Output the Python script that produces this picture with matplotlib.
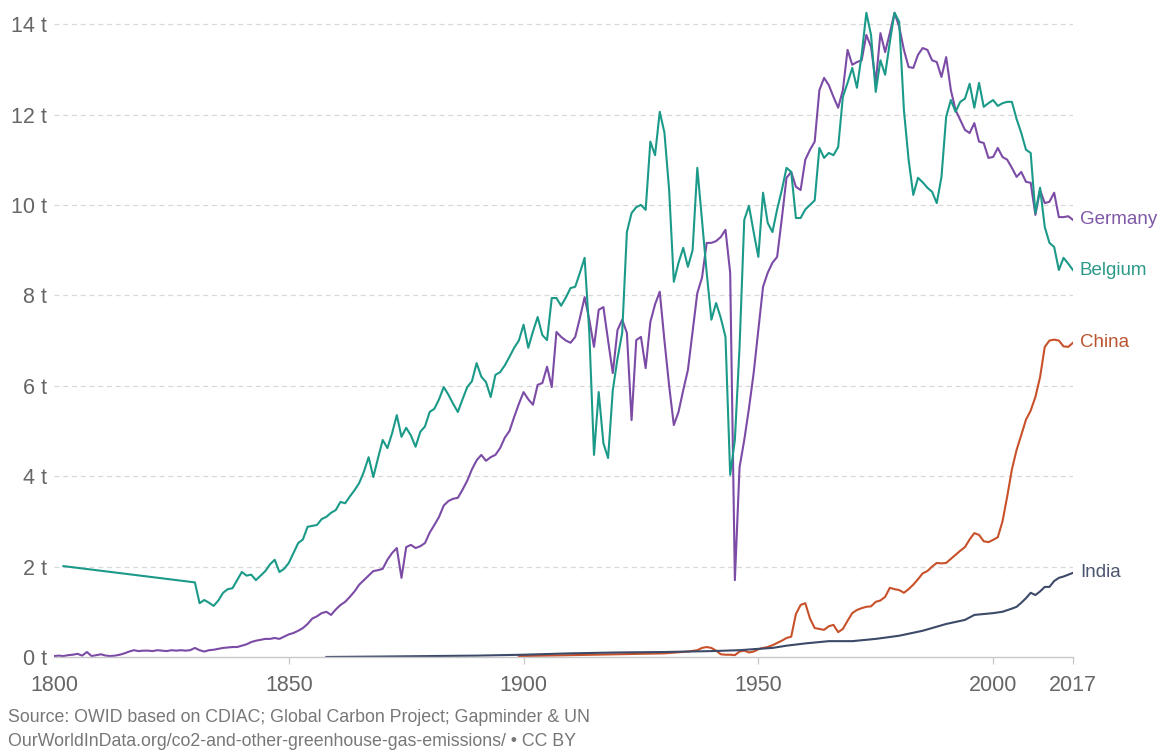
import numpy as np
import matplotlib
matplotlib.use("Agg")
import matplotlib.pyplot as plt

# Per-capita CO2 emissions (tonnes per person)
germany_years = list(range(1800, 2018))
germany_values = [
    0.02, 0.03, 0.02, 0.04, 0.05, 0.07, 0.03, 0.11, 0.02, 0.04,  # 1800s
    0.06, 0.03, 0.02, 0.03, 0.05, 0.08, 0.12, 0.15, 0.13, 0.14,  # 1810s
    0.14, 0.13, 0.15, 0.14, 0.13, 0.15, 0.14, 0.15, 0.14, 0.15,  # 1820s
    0.20, 0.15, 0.12, 0.15, 0.16, 0.18, 0.20, 0.21, 0.22, 0.22,  # 1830s
    0.25, 0.28, 0.33, 0.36, 0.38, 0.40, 0.40, 0.42, 0.40, 0.45,  # 1840s
    0.50, 0.53, 0.58, 0.64, 0.73, 0.85, 0.90, 0.97, 1.00, 0.93,  # 1850s
    1.05, 1.15, 1.22, 1.33, 1.45, 1.60, 1.70, 1.80, 1.90, 1.92,  # 1860s
    1.95, 2.15, 2.30, 2.41, 1.75, 2.43, 2.48, 2.41, 2.45, 2.52,  # 1870s
    2.75, 2.92, 3.10, 3.35, 3.45, 3.50, 3.52, 3.70, 3.90, 4.15,  # 1880s
    4.35, 4.47, 4.34, 4.42, 4.47, 4.62, 4.85, 5.00, 5.31, 5.60,  # 1890s
    5.86, 5.70, 5.58, 6.02, 6.06, 6.42, 5.97, 7.19, 7.08, 7.00,  # 1900s
    6.95, 7.08, 7.50, 7.96, 7.46, 6.86, 7.68, 7.74, 7.00, 6.28,  # 1910s
    7.23, 7.46, 7.17, 5.24, 7.01, 7.08, 6.39, 7.41, 7.80, 8.08,  # 1920s
    7.00, 6.00, 5.13, 5.42, 5.90, 6.35, 7.20, 8.05, 8.39, 9.16,  # 1930s
    9.16, 9.20, 9.29, 9.45, 8.50, 1.70, 4.20, 4.80, 5.50, 6.28,  # 1940s
    7.23, 8.19, 8.50, 8.72, 8.85, 9.70, 10.60, 10.73, 10.40, 10.33,  # 1950s
    11.00, 11.22, 11.40, 12.54, 12.81, 12.65, 12.39, 12.15, 12.54, 13.43,  # 1960s
    13.10, 13.16, 13.20, 13.76, 13.50, 12.70, 13.80, 13.38, 13.80, 14.25,  # 1970s
    13.94, 13.43, 13.05, 13.03, 13.32, 13.47, 13.43, 13.20, 13.16, 12.83,  # 1980s
    13.27, 12.54, 12.10, 11.88, 11.66, 11.59, 11.81, 11.40, 11.37, 11.04,  # 1990s
    11.06, 11.26, 11.06, 11.00, 10.82, 10.62, 10.73, 10.51, 10.49, 9.78,  # 2000s
    10.33, 10.04, 10.07, 10.27, 9.73, 9.73, 9.75, 9.67,  # 2010s
]

belgium_years = [1802] + list(range(1830, 2018))
belgium_values = [
    2.01,
    1.65, 1.19, 1.26, 1.20, 1.13, 1.25, 1.42, 1.50, 1.52, 1.70,  # 1830s
    1.88, 1.80, 1.82, 1.70, 1.80, 1.90, 2.05, 2.15, 1.88, 1.95,  # 1840s
    2.08, 2.30, 2.52, 2.60, 2.88, 2.90, 2.92, 3.05, 3.10, 3.19,  # 1850s
    3.25, 3.43, 3.40, 3.55, 3.69, 3.85, 4.10, 4.42, 3.98, 4.40,  # 1860s
    4.80, 4.62, 4.95, 5.35, 4.87, 5.07, 4.90, 4.65, 4.98, 5.10,  # 1870s
    5.42, 5.49, 5.70, 5.97, 5.80, 5.60, 5.42, 5.70, 5.97, 6.10,  # 1880s
    6.50, 6.20, 6.08, 5.75, 6.24, 6.30, 6.45, 6.64, 6.84, 7.00,  # 1890s
    7.35, 6.84, 7.20, 7.52, 7.12, 7.01, 7.94, 7.94, 7.77, 7.95,  # 1900s
    8.16, 8.19, 8.50, 8.83, 7.17, 4.47, 5.86, 4.73, 4.40, 5.90,  # 1910s
    6.60, 7.17, 9.40, 9.82, 9.95, 10.00, 9.89, 11.40, 11.10, 12.06,  # 1920s
    11.60, 10.33, 8.30, 8.72, 9.05, 8.63, 9.00, 10.82, 9.67, 8.50,  # 1930s
    7.46, 7.83, 7.50, 7.08, 4.03, 4.80, 6.86, 9.67, 9.98, 9.40,  # 1940s
    8.85, 10.27, 9.60, 9.40, 9.90, 10.33, 10.82, 10.73, 9.71, 9.71,  # 1950s
    9.90, 10.00, 10.10, 11.26, 11.04, 11.15, 11.10, 11.28, 12.39, 12.70,  # 1960s
    13.03, 12.59, 13.32, 14.25, 13.76, 12.50, 13.20, 12.88, 13.60, 14.25,  # 1970s
    14.05, 12.10, 11.00, 10.22, 10.60, 10.50, 10.38, 10.29, 10.04, 10.62,  # 1980s
    11.95, 12.32, 12.06, 12.28, 12.35, 12.68, 12.15, 12.70, 12.17, 12.25,  # 1990s
    12.32, 12.19, 12.25, 12.28, 12.28, 11.90, 11.59, 11.22, 11.15, 9.82,  # 2000s
    10.38, 9.51, 9.16, 9.07, 8.56, 8.83, 8.70, 8.56,  # 2010s
]

china_years = [1899, 1905, 1910, 1915, 1920, 1925, 1930, 1935, 1937, 1938, 1939,
               1940, 1941, 1942, 1943, 1944, 1945, 1946, 1947, 1948, 1949] + list(range(1950, 2018))
china_values = [
    0.02, 0.03, 0.04, 0.05, 0.06, 0.07, 0.08, 0.12, 0.15, 0.20, 0.22,
    0.20, 0.14, 0.06, 0.05, 0.05, 0.04, 0.12, 0.14, 0.10, 0.12,
    0.17, 0.20, 0.22, 0.26, 0.31, 0.36, 0.42, 0.45, 0.95, 1.15,  # 1950s
    1.19, 0.85, 0.64, 0.62, 0.60, 0.68, 0.71, 0.55, 0.62, 0.80,  # 1960s
    0.97, 1.04, 1.08, 1.11, 1.12, 1.22, 1.25, 1.33, 1.53, 1.50,  # 1970s
    1.48, 1.42, 1.50, 1.60, 1.72, 1.85, 1.90, 2.00, 2.08, 2.07,  # 1980s
    2.08, 2.17, 2.26, 2.35, 2.43, 2.60, 2.74, 2.70, 2.56, 2.54,  # 1990s
    2.59, 2.65, 3.00, 3.55, 4.15, 4.58, 4.91, 5.25, 5.45, 5.75,  # 2000s
    6.19, 6.86, 7.00, 7.02, 7.00, 6.87, 6.86, 6.95,  # 2010s
]

india_years = [1858, 1870, 1880, 1890, 1900, 1910, 1920, 1930, 1940, 1946, 1950,
               1953, 1956, 1960, 1965, 1970, 1975, 1980, 1985, 1990, 1994, 1996,
               2000, 2002, 2004, 2005, 2006, 2007, 2008, 2009, 2010, 2011, 2012,
               2013, 2014, 2015, 2016, 2017]
india_values = [0.00, 0.01, 0.02, 0.03, 0.05, 0.08, 0.10, 0.11, 0.13, 0.15, 0.18,
                0.20, 0.25, 0.30, 0.35, 0.35, 0.40, 0.47, 0.58, 0.73, 0.82, 0.93,
                0.97, 1.00, 1.07, 1.11, 1.20, 1.30, 1.42, 1.37, 1.45, 1.55, 1.55,
                1.68, 1.75, 1.78, 1.82, 1.86]

series = [
    ("Germany", germany_years, germany_values, "#7b4ba6", "#7f58a8"),
    ("Belgium", belgium_years, belgium_values, "#1b9a89", "#2b9888"),
    ("China", china_years, china_values, "#c8512a", "#b9552f"),
    ("India", india_years, india_values, "#3c4a69", "#4b5570"),
]

y_ticks = [0, 2, 4, 6, 8, 10, 12, 14]
x_ticks = [1800, 1850, 1900, 1950, 2000, 2017]

plt.rcParams["font.family"] = ["Liberation Sans", "DejaVu Sans"]

fig = plt.figure(figsize=(11.67, 7.51), dpi=100)
ax = fig.add_axes([0.0463, 0.1252, 0.8731, 0.8668])

for name, years, values, color, label_color in series:
    ax.plot(years, values, color=color, lw=1.5, solid_joinstyle="round")
    ax.annotate(name, xy=(years[-1], values[-1]), xytext=(5, 0),
                textcoords="offset points", va="center", ha="left",
                fontsize=13.5, color=label_color, annotation_clip=False)

ax.set_xlim(1800, 2017)
ax.set_ylim(0, 14.4)

# dashed horizontal grid
for v in y_ticks[1:]:
    ax.axhline(v, color="#d8d8d8", lw=0.9, ls=(0, (4, 3)), zorder=0)

ax.set_yticks(y_ticks)
ax.set_yticklabels([f"{v} t" for v in y_ticks])
ax.set_xticks(x_ticks)
ax.set_xticklabels([str(x) for x in x_ticks])

for side in ["top", "right", "left"]:
    ax.spines[side].set_visible(False)
ax.spines["bottom"].set_color("#c8c8c8")
ax.spines["bottom"].set_linewidth(1.0)

ax.tick_params(axis="y", length=0, pad=5, labelsize=15.5, labelcolor="#666666")
ax.tick_params(axis="x", length=5, width=0.9, color="#c8c8c8", pad=8,
               labelsize=15.5, labelcolor="#666666")
ax.get_xticklines()[0].set_visible(False)

fig.text(0.007, 1 - 718 / 751, "Source: OWID based on CDIAC; Global Carbon Project; Gapminder & UN",
         fontsize=12.8, color="#777777", va="center", ha="left")
fig.text(0.007, 1 - 741 / 751, "OurWorldInData.org/co2-and-other-greenhouse-gas-emissions/ \u2022 CC BY",
         fontsize=12.8, color="#777777", va="center", ha="left")

fig.savefig("out.png", dpi=100)
